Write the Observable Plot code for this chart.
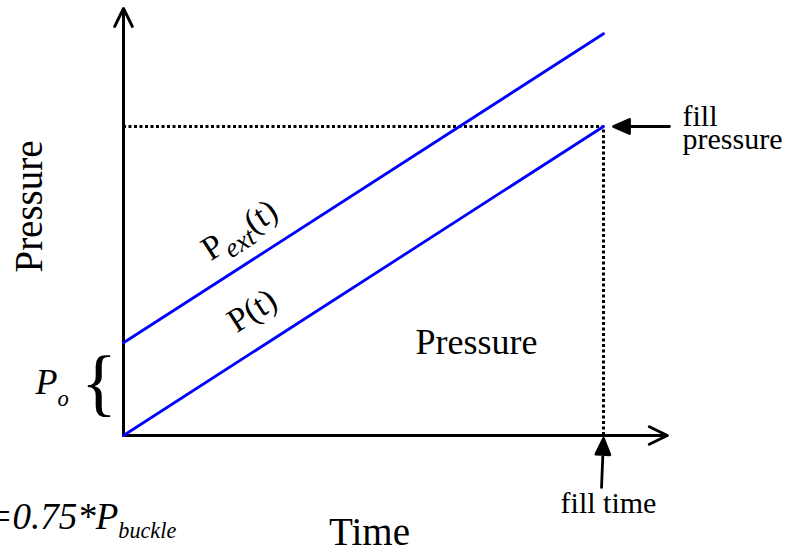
<!DOCTYPE html>
<html>
<head>
<meta charset="utf-8">
<script src="https://cdn.jsdelivr.net/npm/d3@7"></script>
<script src="https://cdn.jsdelivr.net/npm/@observablehq/plot@0.6"></script>
<style>
  html, body { margin: 0; padding: 0; background: #fff; }
  #chart svg { display: block; }
</style>
</head>
<body>
<div id="chart"></div>
<script>
// ---- Schematic values (arbitrary units) ----
const time = [0, 10];              // t
const pressure = [0, 10];          // P(t)
const pressureExt = [3, 13];       // Pext(t) = P(t) + Po
const P0 = 3;                      // Po offset
const fillTime = 10;
const fillPressure = 10;
const axisTimeEnd = 11.33;         // extent of the time axis arrow
const axisPressureEnd = 13.82;     // extent of the pressure axis arrow
const labelTimeExt = 1.69;         // where the Pext(t) label sits along its line
const labelTimeP = 2.23;           // where the P(t) label sits along its line

const seriesNames = ["P", "Pext"];
const seriesValues = [pressure, pressureExt];

const lineData = seriesNames.flatMap((name, s) =>
  time.map((t, i) => ({name, t, p: seriesValues[s][i]})));

const axes = [
  {x1: 0, y1: 0, x2: 0, y2: axisPressureEnd},
  {x1: 0, y1: 0, x2: axisTimeEnd, y2: 0}
];

const fillPoint = [{t: fillTime, p: fillPressure}];
const fillTimePoint = [{t: fillTime, p: 0}];
const poPoint = [{t: 0, p: P0 / 2}];

const slopeAngle = -32.77; // direction of the lines on screen

const arrowShape = {
  draw(ctx, l) {
    ctx.moveTo(0, 0);
    ctx.lineTo(-7, 16);
    ctx.lineTo(7, 16);
    ctx.closePath();
    ctx.moveTo(0, 15);
    ctx.lineTo(0, l);
  }
};

const svg = Plot.plot({
  width: 786,
  height: 551,
  marginLeft: 123,
  marginRight: 183,
  marginTop: 126,
  marginBottom: 116,
  style: {fontFamily: "'Liberation Serif', 'Times New Roman', serif", background: "#fff", color: "black"},
  x: {domain: [0, 10], axis: null},
  y: {domain: [0, 10], axis: null},
  marks: [
    // dotted guides
    Plot.ruleY(fillPoint, {y: "p", x1: 0, x2: "t", stroke: "black", strokeWidth: 3, strokeDasharray: "3,2.5"}),
    Plot.ruleX(fillPoint, {x: "t", y1: 0, y2: "p", stroke: "black", strokeWidth: 3, strokeDasharray: "3,2.5"}),
    // axes with open arrowheads
    Plot.arrow(axes, {x1: "x1", y1: "y1", x2: "x2", y2: "y2", stroke: "black", strokeWidth: 3, headLength: 10, headAngle: 52, strokeLinejoin: "miter"}),
    // pressure lines
    Plot.line(lineData, {x: "t", y: "p", z: "name", stroke: "#0000ff", strokeWidth: 2.8}),
    // annotation arrows
    Plot.vector(fillPoint, {x: "t", y: "p", dx: 10, length: 56, rotate: -90, anchor: "start", shape: arrowShape, fill: "black", stroke: "black", strokeWidth: 2.8}),
    Plot.vector(fillTimePoint, {x: "t", y: "p", dy: 3, length: 49, rotate: 2.3, anchor: "start", shape: arrowShape, fill: "black", stroke: "black", strokeWidth: 2.8}),
    // axis titles
    Plot.text(["Pressure"], {frameAnchor: "top-left", textAnchor: "middle", lineAnchor: "middle", rotate: -90, dx: -93.5, dy: 80, fontSize: 39}),
    Plot.text(["Time"], {frameAnchor: "bottom", textAnchor: "middle", lineAnchor: "middle", dx: 6, dy: 97.5, fontSize: 39}),
    // region label
    Plot.text(["Pressure"], {frameAnchor: "bottom-right", textAnchor: "middle", lineAnchor: "middle", dx: -127, dy: -93.5, fontSize: 36}),
    // fill labels
    Plot.text(fillPoint, {x: "t", y: "p", text: () => "fill", textAnchor: "start", lineAnchor: "middle", dx: 79, dy: -10.6, fontSize: 30}),
    Plot.text(fillPoint, {x: "t", y: "p", text: () => "pressure", textAnchor: "start", lineAnchor: "middle", dx: 79, dy: 12.4, fontSize: 30}),
    Plot.text(fillTimePoint, {x: "t", y: "p", text: () => "fill time", textAnchor: "middle", lineAnchor: "middle", dx: 5, dy: 67.4, fontSize: 30}),
    // Po with brace
    Plot.text(poPoint, {x: "t", y: "p", text: () => "P_{o}", textAnchor: "start", lineAnchor: "middle", dx: -88, dy: -6.9, fontSize: 36, fontStyle: "italic"}),
    Plot.text(poPoint, {x: "t", y: "p", text: () => "{", textAnchor: "start", lineAnchor: "middle", dx: -42.4, dy: -5.9, fontSize: 75}),
    Plot.text(["=0.75*P_{buckle}"], {frameAnchor: "bottom-left", textAnchor: "start", lineAnchor: "middle", dx: -136, dy: 81.2, fontSize: 37, fontStyle: "italic"}),
    // line labels
    Plot.text([{t: labelTimeExt, p: labelTimeExt + P0}], {x: "t", y: "p", text: () => "P_{ext}(t)", textAnchor: "start", lineAnchor: "middle", rotate: slopeAngle, dy: -38.3, fontSize: 34}),
    Plot.text([{t: labelTimeP, p: labelTimeP}], {x: "t", y: "p", text: () => "P(t)", textAnchor: "start", lineAnchor: "middle", rotate: slopeAngle, dy: -42.2, fontSize: 34})
  ]
});

// turn _{...} into subscripts
const subStyle = {o: {scale: 0.63, shift: 12}, buckle: {scale: 0.6, shift: 9}, ext: {scale: 0.8, shift: 9}};
d3.select(svg).selectAll("text").each(function () {
  const s = this.textContent;
  if (!s.includes("_{")) return;
  const parts = s.split(/(_\{[^}]*\})/).filter(d => d);
  while (this.firstChild) this.removeChild(this.firstChild);
  let pending = 0;
  const sel = d3.select(this);
  for (const part of parts) {
    const m = part.match(/^_\{([^}]*)\}$/);
    if (m) {
      const st = subStyle[m[1]] || {scale: 0.65, shift: 9};
      sel.append("tspan").text(m[1])
        .attr("dy", st.shift)
        .style("font-size", (st.scale * 100) + "%")
        .style("font-style", "italic");
      pending = -st.shift;
    } else {
      const t = sel.append("tspan").text(part);
      if (pending) t.attr("dy", pending);
      pending = 0;
    }
  }
});

document.getElementById("chart").appendChild(svg);
</script>
</body>
</html>
